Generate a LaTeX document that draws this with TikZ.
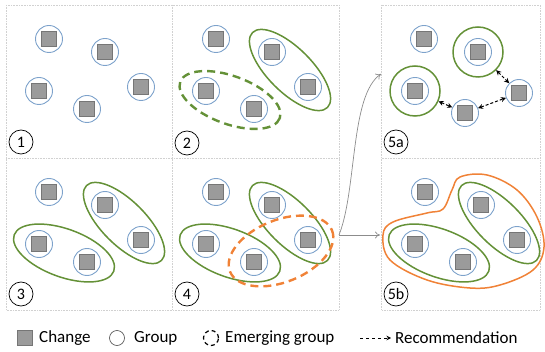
\documentclass[tikz,border=0pt]{standalone}
\usepackage{fontspec}
\setmainfont{Carlito}
\usetikzlibrary{arrows.meta}
\definecolor{ringblue}{RGB}{125,162,203}
\definecolor{grpgreen}{RGB}{100,145,55}
\definecolor{emorange}{RGB}{240,130,55}
\definecolor{chgfill}{RGB}{155,155,155}
\definecolor{chgline}{RGB}{118,118,118}
\tikzset{
	grp/.style={circle, draw=ringblue, line width=0.9pt, minimum size=27pt, inner sep=0pt},
	chg/.style={rectangle, fill=chgfill, draw=chgline, line width=0.8pt, minimum size=15pt, inner sep=0pt},
	grpline/.style={draw=grpgreen, line width=1.5pt},
	emline/.style={line width=2.4pt, dash pattern=on 8pt off 5pt},
	lbl/.style={circle, draw=black, line width=0.7pt, fill=white, minimum size=24pt, inner sep=0pt, font=\fontsize{16}{16}\selectfont},
	frame/.style={draw=black!18, line width=0.6pt, densely dotted},
	flow/.style={draw=black!45, line width=0.7pt, -{To[length=5pt,width=7pt]}},
	rec/.style={line width=1pt, dash pattern=on 3pt off 2pt, {Stealth[length=5pt,width=5pt]}-{Stealth[length=5pt,width=5pt]}}
}
\def\change(#1)(#2){\node[grp] (#1) at (#2) {}; \node[chg] (#1s) at (#2) {};}

\begin{document}
\begin{tikzpicture}[x=1pt, y=-1pt, font=\fontsize{17}{20}\selectfont]
			%%%%% START %%%%%
			\useasboundingbox (0,0) rectangle (545,352);
			
			% panel frames
			\draw[frame] (6,5) rectangle (339,310);
			\draw[frame] (172.5,5) -- (172.5,310);
			\draw[frame] (6,158) -- (339,158);
			\draw[frame] (381.5,5) rectangle (540,310);
			\draw[frame] (381.5,158) -- (540,158);
			
			% panel 1
			\change(a1)(49,39) \change(b1)(105,52) \change(c1)(39,91) \change(d1)(87,109) \change(e1)(141,87)
			\node[lbl] (n1) at (21,142) {1};
			
			% panel 2
			\draw[grpline, rotate around={-45:(290,70)}] (290,70) ellipse [x radius=53, y radius=22];
			\draw[grpline, emline, rotate around={-20:(230,100)}] (230,100) ellipse [x radius=53, y radius=24];
			\change(a2)(216,39) \change(b2)(272,52) \change(c2)(206,91) \change(d2)(254,109) \change(e2)(308,87)
			\node[lbl] (n2) at (187,143) {2};
			
			% panel 3
			\draw[grpline, rotate around={-45:(124,223)}] (124,223) ellipse [x radius=53, y radius=22];
			\draw[grpline, rotate around={-20:(64,253)}] (64,253) ellipse [x radius=53, y radius=24];
			\change(a3)(49,192) \change(b3)(105,205) \change(c3)(39,244) \change(d3)(87,262) \change(e3)(141,240)
			\node[lbl] (n3) at (21,294) {3};
			
			% panel 4
			\draw[grpline, rotate around={-45:(290,223)}] (290,223) ellipse [x radius=53, y radius=22];
			\draw[grpline, rotate around={-20:(230,253)}] (230,253) ellipse [x radius=53, y radius=24];
			\draw[emline, draw=emorange, rotate around={22:(281,251)}] (281,251) ellipse [x radius=55, y radius=31];
			\change(a4)(216,192) \change(b4)(272,205) \change(c4)(206,244) \change(d4)(254,262) \change(e4)(308,240)
			\node[lbl] (n4) at (187,294) {4};
			
			% arrows to 5a / 5b
			\coordinate (split) at (339,235);
			\coordinate (in5a) at (381,74);
			\coordinate (in5b) at (380,235);
			\draw[flow] (split) .. controls (357,190) and (350,95) .. (in5a);
			\draw[flow] (split) -- (in5b);
			
			% panel 5a
			\node[grp, draw=grpgreen, line width=1.5pt, minimum size=50pt] (g5ab) at (478,52) {};
			\node[grp, draw=grpgreen, line width=1.5pt, minimum size=50pt] (g5ac) at (415,91) {};
			\change(a5)(424,39) \change(b5)(478,52) \change(c5)(415,91) \change(d5)(465,113) \change(e5)(519,93)
			\draw[rec] (g5ab) -- (e5);
			\draw[rec] (g5ac) -- (d5);
			\draw[rec] (d5) -- (e5);
			\node[lbl] (n5a) at (396,142) {5a};
			
			% panel 5b
			\draw[draw=emorange, line width=1.5pt] plot[smooth cycle, tension=0.6] coordinates {(383,235) (393,222) (427,213) (443,209) (452,190) (460,177) (487,175) (517,190) (537,217) (544,247) (533,270) (500,285) (470,288) (427,280) (390,260)};
			\draw[grpline, rotate around={-45:(499,223)}] (499,223) ellipse [x radius=53, y radius=22];
			\draw[grpline, rotate around={-20:(439,253)}] (439,253) ellipse [x radius=53, y radius=24];
			\change(a6)(425,192) \change(b6)(481,205) \change(c6)(415,244) \change(d6)(463,262) \change(e6)(517,240)
			\node[lbl] (n5b) at (396,294) {5b};
			
			% legend
			\node[chg] (lgchg) at (25,338) {};
			\node[anchor=west, inner sep=0pt] (lgchgt) at (39,338) {Change};
			\node[circle, draw=black!70, line width=0.6pt, minimum size=15pt, inner sep=0pt] (lggrp) at (117,338) {};
			\node[anchor=west, inner sep=0pt] (lggrpt) at (134,338) {Group};
			\node[circle, draw=black, line width=1.2pt, dash pattern=on 4pt off 3pt, minimum size=15pt, inner sep=0pt] (lgem) at (211,338) {};
			\node[anchor=west, inner sep=0pt] (lgemt) at (225,338) {Emerging group};
			\coordinate (lgra) at (360,338);
			\coordinate (lgrb) at (391,338);
			\draw[line width=0.9pt, dashed, -{Stealth[length=4.5pt,width=4.5pt]}] (lgra) -- (lgrb);
			\node[anchor=west, inner sep=0pt] (lgrect) at (395,338) {Recommendation};
			
			%%%%% END %%%%%
\end{tikzpicture}
\end{document}
